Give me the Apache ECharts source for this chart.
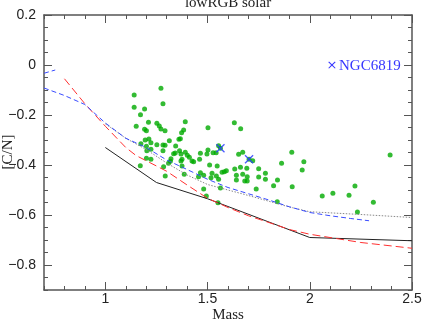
<!DOCTYPE html>
<html>
<head>
<meta charset="utf-8">
<script src="https://cdn.jsdelivr.net/npm/echarts@6/dist/echarts.min.js"></script>
<style>
  html, body { margin: 0; padding: 0; background: #fff; }
  #main { width: 438px; height: 327px; }
</style>
</head>
<body>
<div id="main"></div>
<script>
// model tracks, [mass, [C/N]]
var blackLine = [[1.0,-0.33],[1.25,-0.47],[1.5,-0.535],[2.0,-0.69],[2.5,-0.703]];
var redLine = [[0.8,-0.055],[0.9,-0.155],[1.0,-0.245],[1.1,-0.33],[1.15,-0.362],[1.2,-0.383],[1.3,-0.425],
  [1.4,-0.48],[1.5,-0.533],[1.6,-0.57],[1.7,-0.603],[1.8,-0.63],[1.9,-0.658],[2.0,-0.677],[2.25,-0.71],[2.5,-0.733]];
var blueLine = [[0.7,-0.092],[0.8,-0.122],[0.9,-0.158],[1.0,-0.232],[1.1,-0.293],[1.2,-0.33],[1.3,-0.38],
  [1.4,-0.418],[1.5,-0.457],[1.6,-0.49],[1.7,-0.515],[1.8,-0.54],[1.9,-0.567],[2.0,-0.59],[2.1,-0.603],
  [2.2,-0.614],[2.29,-0.623]];
var blueUpper = [[0.7,-0.033],[0.755,-0.02]];
var grayLine = [[1.0,-0.235],[1.1,-0.293],[1.2,-0.338],[1.3,-0.392],[1.4,-0.44],[1.5,-0.478],[1.6,-0.5],
  [1.7,-0.522],[1.8,-0.545],[1.9,-0.568],[2.0,-0.587],[2.25,-0.598],[2.5,-0.61]];

// field giants
var stars = [[1.272,-0.093],[1.141,-0.12],[1.282,-0.155],[1.141,-0.169],[1.192,-0.176],[1.172,-0.199],
  [1.151,-0.245],[1.211,-0.229],[1.252,-0.233],[1.264,-0.244],[1.272,-0.256],[1.292,-0.263],[1.192,-0.257],
  [1.201,-0.263],[1.391,-0.227],[1.383,-0.26],[1.373,-0.271],[1.502,-0.251],[1.367,-0.295],[1.36,-0.297],
  [1.313,-0.303],[1.213,-0.296],[1.223,-0.311],[1.195,-0.30],[1.174,-0.315],[1.252,-0.319],[1.282,-0.32],
  [1.292,-0.321],[1.344,-0.324],[1.201,-0.325],[1.223,-0.337],[1.282,-0.343],[1.334,-0.355],[1.342,-0.352],
  [1.363,-0.343],[1.391,-0.349],[1.37,-0.356],[1.401,-0.361],[1.411,-0.369],[1.321,-0.375],[1.375,-0.377],
  [1.461,-0.377],[1.502,-0.34],[1.497,-0.356],[1.527,-0.351],[1.542,-0.351],[1.554,-0.323],[1.203,-0.343],
  [1.201,-0.373],[1.424,-0.384],[1.37,-0.384],[1.465,-0.353],[1.318,-0.385],[1.309,-0.393],[1.285,-0.407],
  [1.375,-0.404],[1.386,-0.437],[1.432,-0.387],[1.51,-0.40],[1.547,-0.404],[1.522,-0.433],[1.517,-0.451],
  [1.465,-0.431],[1.456,-0.447],[1.481,-0.441],[1.554,-0.457],[1.171,-0.403],[1.223,-0.377],[1.481,-0.496],
  [1.494,-0.524],[1.551,-0.551],[1.293,-0.444],[1.563,-0.492],[1.738,-0.496],[1.841,-0.547],[1.914,-0.487],
  [1.963,-0.42],[2.061,-0.524],[2.113,-0.513],[2.192,-0.521],[2.221,-0.484],[2.233,-0.588],[2.311,-0.549],
  [1.631,-0.231],[1.662,-0.255],[1.652,-0.357],[1.672,-0.349],[1.721,-0.383],[1.912,-0.349],[1.971,-0.387],
  [1.862,-0.393],[1.633,-0.416],[1.661,-0.409],[1.692,-0.413],[1.75,-0.415],[1.783,-0.433],[1.571,-0.429],
  [1.582,-0.427],[1.592,-0.423],[1.672,-0.437],[1.694,-0.447],[1.75,-0.448],[1.783,-0.457],[1.641,-0.441],
  [1.641,-0.46],[1.682,-0.464],[1.694,-0.464],[1.842,-0.46],[1.823,-0.483],[1.543,-0.444],[2.393,-0.36],
  [1.563,-0.333],[1.703,-0.377]];

// cluster stars
var ngc6819 = [[1.563,-0.333],[1.703,-0.377]];

var xTicks = [1, 1.5, 2, 2.5];
var yTicks = [-0.8, -0.6, -0.4, -0.2, 0, 0.2];

var axisColor = '#555';
var crossPath = 'path://M0,1L1,0L5,4L9,0L10,1L6,5L10,9L9,10L5,6L1,10L0,9L4,5Z';

function minorAxis(position, min, max, step){
	return {
		type: 'value', position: position, min: min, max: max, interval: step,
		axisLine: {show: true, onZero: false, lineStyle: {color: axisColor, width: 1.5}},
		axisTick: {show: true, inside: true, length: 4, lineStyle: {color: axisColor, width: 1}},
		axisLabel: {show: false},
		splitLine: {show: false}
	};
}
function majorAxis(position, min, max, ticks, labels, margin, fmt){
	return {
		type: 'value', position: position, min: min, max: max,
		axisLine: {show: false, onZero: false},
		axisTick: {show: true, inside: true, length: 8, customValues: ticks, lineStyle: {color: axisColor, width: 1}},
		axisLabel: {show: labels, customValues: ticks, margin: margin, formatter: fmt,
			color: '#222', fontFamily: 'Liberation Sans', fontSize: 14},
		splitLine: {show: false}
	};
}
function yFmt(v){
	if (Math.abs(v) < 1e-9) return '0';
	return (v < 0 ? '\u2212' : '') + Math.abs(v).toFixed(1);
}
function xFmt(v){ return String(+v.toFixed(1)); }

var myChart = echarts.init(document.getElementById('main'));

var option = {
	animation: false,
	grid: {left: 44, right: 26, top: 15, bottom: 37},
	xAxis: [
		minorAxis('bottom', 0.7, 2.5, 0.1),
		majorAxis('bottom', 0.7, 2.5, xTicks, true, 2, xFmt),
		minorAxis('top', 0.7, 2.5, 0.1),
		majorAxis('top', 0.7, 2.5, xTicks, false, 2, xFmt)
	],
	yAxis: [
		minorAxis('left', -0.9, 0.2, 0.05),
		majorAxis('left', -0.9, 0.2, yTicks, true, 8, yFmt),
		minorAxis('right', -0.9, 0.2, 0.05),
		majorAxis('right', -0.9, 0.2, yTicks, false, 8, yFmt)
	],
	graphic: [
		{type: 'text', x: 228, y: 11, style: {text: 'lowRGB solar', font: '15px "Liberation Serif"', fill: '#222',
			textAlign: 'center', textVerticalAlign: 'bottom', align: 'center', verticalAlign: 'bottom'}},
		{type: 'text', x: 228, y: 315, style: {text: 'Mass', font: '15px "Liberation Serif"', fill: '#222',
			textAlign: 'center', textVerticalAlign: 'middle', align: 'center', verticalAlign: 'middle'}},
		{type: 'text', x: 8, y: 152, rotation: Math.PI / 2, style: {text: '[C/N]', font: '15px "Liberation Serif"', fill: '#222',
			textAlign: 'center', textVerticalAlign: 'middle', align: 'center', verticalAlign: 'middle'}},
		{type: 'text', x: 332, y: 66, style: {text: '\u00d7', font: '13px "DejaVu Sans"', fill: '#3636ff',
			textAlign: 'center', textVerticalAlign: 'middle', align: 'center', verticalAlign: 'middle'}},
		{type: 'text', x: 339, y: 66, style: {text: 'NGC6819', font: '15px "Liberation Serif"', fill: '#3636ff',
			textAlign: 'left', textVerticalAlign: 'middle', align: 'left', verticalAlign: 'middle'}}
	],
	series: [
		{type: 'line', data: blackLine, showSymbol: false, lineStyle: {color: '#222', width: 1}},
		{type: 'line', data: redLine, showSymbol: false, lineStyle: {color: '#ff3030', width: 1, type: [8, 4]}},
		{type: 'line', data: grayLine, showSymbol: false, lineStyle: {color: '#888', width: 1, type: [1.5, 1.5]}},
		{type: 'line', data: blueLine, showSymbol: false, lineStyle: {color: '#3a4cff', width: 1, type: [5, 3]}},
		{type: 'line', data: blueUpper, showSymbol: false, lineStyle: {color: '#3a4cff', width: 1, type: [5, 3]}},
		{type: 'scatter', data: stars, symbol: 'circle', symbolSize: 5, itemStyle: {color: '#00aa00'}},
		{type: 'scatter', data: ngc6819, symbol: crossPath, symbolSize: 9, itemStyle: {color: '#2a3cff', opacity: 0.85}}
	]
};

myChart.setOption(option);
</script>
</body>
</html>
